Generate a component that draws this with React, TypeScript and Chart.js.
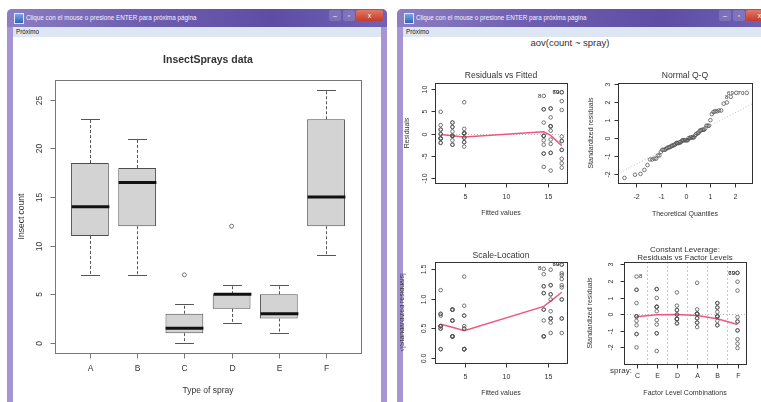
import React, { useEffect, useRef } from "react";
import { Chart, registerables } from "chart.js";
Chart.register(...registerables);

// ---------------- data ----------------
const sprayLabels = ["A", "B", "C", "D", "E", "F"];
const countA = [10, 7, 20, 14, 14, 12, 10, 23, 17, 20, 14, 13];
const countB = [11, 17, 21, 11, 16, 14, 17, 17, 19, 21, 7, 13];
const countC = [0, 1, 7, 2, 3, 1, 2, 1, 3, 0, 1, 4];
const countD = [3, 5, 12, 6, 4, 3, 5, 5, 5, 5, 2, 4];
const countE = [3, 5, 3, 5, 3, 6, 1, 1, 3, 2, 6, 4];
const countF = [11, 9, 15, 22, 15, 16, 13, 10, 26, 26, 24, 13];

const whiskerLow = [7, 7, 0, 2, 1, 9];
const boxQ1 = [11, 12, 1, 3.5, 2.5, 12];
const boxMedian = [14, 16.5, 1.5, 5, 3, 15];
const boxQ3 = [18.5, 18, 3, 5, 5, 23];
const whiskerHigh = [23, 21, 4, 6, 6, 26];
const outlierPos = [3, 4];
const outlierVal = [7, 12];
const boxYTicks = [0, 5, 10, 15, 20, 25];

const rvfXTicks = [5, 10, 15];
const rvfYTicks = [-10, -5, 0, 5, 10];
const smoothX = [2.083, 3.5, 4.917, 14.5, 15.333, 16.667];
const rvfSmoothY = [-0.2, -0.45, -0.75, 0.4, -0.4, -2.7];

const qqXTicks = [-2, -1, 0, 1, 2];
const qqYTicks = [-2, -1, 0, 1, 2, 3];

const slYTicks = [0, 0.5, 1, 1.5];
const slYLabels = ["0.0", "0.5", "1.0", "1.5"];
const slSmoothY = [0.57, 0.52, 0.46, 0.87, 0.96, 1.11];

const levelOrder = ["C", "E", "D", "A", "B", "F"];
const levelPos = [1, 2, 3, 4, 5, 6];
const levelYTicks = [-2, -1, 0, 1, 2, 3];
const levelSmoothY = [-0.16, -0.04, -0.02, -0.08, -0.28, -0.62];
const levelSeparators = [1.5, 2.5, 3.5, 4.5, 5.5];
const labelledRows = [8, 69, 70];

// ---------------- derived model quantities (aov fit) ----------------
const groups = [countA, countB, countC, countD, countE, countF];
type Row = { row: number; g: number; fitted: number; resid: number; std: number; theo: number };
const rows: Row[] = [];
groups.forEach((g, gi) => {
  const m = g.reduce((a, b) => a + b, 0) / g.length;
  g.forEach((v) => rows.push({ row: rows.length + 1, g: gi, fitted: m, resid: v - m, std: 0, theo: 0 }));
});
const sigma = Math.sqrt(rows.reduce((s, r) => s + r.resid * r.resid, 0) / (rows.length - groups.length));
const leverage = 1 / countA.length;
rows.forEach((r) => (r.std = r.resid / (sigma * Math.sqrt(1 - leverage))));

function qnorm(p: number) {
  const a = [-39.69683028665376, 220.9460984245205, -275.9285104469687, 138.357751867269, -30.66479806614716, 2.506628277459239];
  const b = [-54.47609879822406, 161.5858368580409, -155.6989798598866, 66.80131188771972, -13.28068155288572];
  const c = [-0.007784894002430293, -0.3223964580411365, -2.400758277161838, -2.549732539343734, 4.374664141464968, 2.938163982698783];
  const d = [0.007784695709041462, 0.3224671290700398, 2.445134137142996, 3.754408661907416];
  const pl = 0.02425;
  let q, r;
  if (p < pl) {
    q = Math.sqrt(-2 * Math.log(p));
    return (((((c[0] * q + c[1]) * q + c[2]) * q + c[3]) * q + c[4]) * q + c[5]) / ((((d[0] * q + d[1]) * q + d[2]) * q + d[3]) * q + 1);
  }
  if (p <= 1 - pl) {
    q = p - 0.5;
    r = q * q;
    return ((((((a[0] * r + a[1]) * r + a[2]) * r + a[3]) * r + a[4]) * r + a[5]) * q) / (((((b[0] * r + b[1]) * r + b[2]) * r + b[3]) * r + b[4]) * r + 1);
  }
  q = Math.sqrt(-2 * Math.log(1 - p));
  return -(((((c[0] * q + c[1]) * q + c[2]) * q + c[3]) * q + c[4]) * q + c[5]) / ((((d[0] * q + d[1]) * q + d[2]) * q + d[3]) * q + 1);
}
const sortedRows = [...rows].sort((p, q) => p.std - q.std || p.row - q.row);
sortedRows.forEach((r, i) => (r.theo = qnorm((i + 0.5) / rows.length)));
const sortedStd = sortedRows.map((r) => r.std);
function quant(v: number[], p: number) {
  const h = (v.length - 1) * p;
  const lo = Math.floor(h);
  return v[lo] + (h - lo) * ((v[lo + 1] ?? v[lo]) - v[lo]);
}
const qY1 = quant(sortedStd, 0.25);
const qY3 = quant(sortedStd, 0.75);
const qX1 = qnorm(0.25);
const qX3 = qnorm(0.75);
const qqSlope = (qY3 - qY1) / (qX3 - qX1);
const qqInt = qY1 - qqSlope * qX1;

// ---------------- drawing helpers ----------------
const FONT = '"Liberation Sans", Arial, sans-serif';
const TEXT = "#333";
const RED = "#f0567e";
const PT = "#555";

type Id = { x: number; y: number; text: string; side: "left" | "right" };
type RCfg = {
  xTicks: number[];
  xTickLabels: string[];
  yTicks: number[];
  yTickLabels: string[];
  tickLen: number;
  xTickLabOff: number;
  yTickLabOff: number;
  tickFont: number;
  title: string[];
  titleOffs: number[];
  titleFont: string;
  xTitle: string;
  xTitleOff: number;
  yTitle: string;
  yTitleOff: number;
  axisFont: number;
  frameColor: string;
  ids?: Id[];
  hLines?: number[];
  vLines?: number[];
  vLineColor?: string;
  extra?: { text: string; dx: number; dy: number; size: number }[];
};

function rPlugin(cfg: RCfg) {
  return {
    id: "rAxes",
    beforeDatasetsDraw(chart: any) {
      const { ctx, chartArea: a, scales } = chart;
      const x = scales.x;
      const y = scales.y;
      ctx.save();
      ctx.lineWidth = 1;
      ctx.strokeStyle = cfg.vLineColor || "#c8c8c8";
      ctx.setLineDash([2, 2]);
      (cfg.vLines || []).forEach((v) => {
        const px = Math.round(x.getPixelForValue(v)) + 0.5;
        ctx.beginPath();
        ctx.moveTo(px, a.top);
        ctx.lineTo(px, a.bottom);
        ctx.stroke();
      });
      ctx.strokeStyle = "#bdbdbd";
      ctx.setLineDash([1, 2]);
      (cfg.hLines || []).forEach((v) => {
        const py = Math.round(y.getPixelForValue(v)) + 0.5;
        ctx.beginPath();
        ctx.moveTo(a.left, py);
        ctx.lineTo(a.right, py);
        ctx.stroke();
      });
      ctx.restore();
    },
    afterDraw(chart: any) {
      const { ctx, chartArea: a, scales } = chart;
      const x = scales.x;
      const y = scales.y;
      ctx.save();
      ctx.strokeStyle = cfg.frameColor;
      ctx.lineWidth = 1;
      ctx.setLineDash([]);
      ctx.strokeRect(a.left + 0.5, a.top + 0.5, a.right - a.left, a.bottom - a.top);
      ctx.fillStyle = TEXT;
      ctx.font = `${cfg.tickFont}px ${FONT}`;
      ctx.textAlign = "center";
      ctx.textBaseline = "middle";
      cfg.xTicks.forEach((v, i) => {
        const px = Math.round(x.getPixelForValue(v)) + 0.5;
        ctx.beginPath();
        ctx.moveTo(px, a.bottom + 0.5);
        ctx.lineTo(px, a.bottom + 0.5 + cfg.tickLen);
        ctx.stroke();
        ctx.fillText(cfg.xTickLabels[i], px, a.bottom + cfg.xTickLabOff);
      });
      cfg.yTicks.forEach((v, i) => {
        const py = Math.round(y.getPixelForValue(v)) + 0.5;
        ctx.beginPath();
        ctx.moveTo(a.left + 0.5, py);
        ctx.lineTo(a.left + 0.5 - cfg.tickLen, py);
        ctx.stroke();
        ctx.save();
        ctx.translate(a.left - cfg.yTickLabOff, py);
        ctx.rotate(-Math.PI / 2);
        ctx.fillText(cfg.yTickLabels[i], 0, 0);
        ctx.restore();
      });
      const cx = (a.left + a.right) / 2;
      const cy = (a.top + a.bottom) / 2;
      ctx.font = cfg.titleFont;
      cfg.title.forEach((t, i) => ctx.fillText(t, cx, a.top - cfg.titleOffs[i]));
      ctx.font = `${cfg.axisFont}px ${FONT}`;
      ctx.fillText(cfg.xTitle, cx, a.bottom + cfg.xTitleOff);
      ctx.save();
      ctx.translate(a.left - cfg.yTitleOff, cy);
      ctx.rotate(-Math.PI / 2);
      ctx.fillText(cfg.yTitle, 0, 0);
      ctx.restore();
      (cfg.extra || []).forEach((e) => {
        ctx.font = `${e.size}px ${FONT}`;
        ctx.fillText(e.text, a.left + e.dx, a.bottom + e.dy);
      });
      ctx.font = `6px ${FONT}`;
      (cfg.ids || []).forEach((d) => {
        const px = x.getPixelForValue(d.x);
        const py = y.getPixelForValue(d.y);
        ctx.textAlign = d.side === "left" ? "right" : "left";
        ctx.fillText(d.text, d.side === "left" ? px - 2.5 : px + 2.5, py);
      });
      ctx.restore();
    },
  };
}

const boxExtras = {
  id: "boxExtras",
  afterDatasetsDraw(chart: any) {
    const { ctx, scales } = chart;
    const x = scales.x;
    const y = scales.y;
    ctx.save();
    sprayLabels.forEach((_, i) => {
      const pos = i + 1;
      const px = Math.round(x.getPixelForValue(pos)) + 0.5;
      const half = x.getPixelForValue(pos + 0.4) - x.getPixelForValue(pos);
      const staple = x.getPixelForValue(pos + 0.2) - x.getPixelForValue(pos);
      const yl = Math.round(y.getPixelForValue(whiskerLow[i])) + 0.5;
      const yq1 = y.getPixelForValue(boxQ1[i]);
      const yq3 = y.getPixelForValue(boxQ3[i]);
      const yh = Math.round(y.getPixelForValue(whiskerHigh[i])) + 0.5;
      const ym = y.getPixelForValue(boxMedian[i]);
      ctx.strokeStyle = "#555";
      ctx.lineWidth = 1;
      ctx.setLineDash([3, 2]);
      ctx.beginPath();
      ctx.moveTo(px, yq3);
      ctx.lineTo(px, yh);
      ctx.moveTo(px, yq1);
      ctx.lineTo(px, yl);
      ctx.stroke();
      ctx.setLineDash([]);
      ctx.beginPath();
      ctx.moveTo(px - staple, yh);
      ctx.lineTo(px + staple, yh);
      ctx.moveTo(px - staple, yl);
      ctx.lineTo(px + staple, yl);
      ctx.stroke();
      ctx.strokeStyle = "#111";
      ctx.lineWidth = 3;
      ctx.beginPath();
      ctx.moveTo(px - half, ym);
      ctx.lineTo(px + half, ym);
      ctx.stroke();
    });
    ctx.restore();
  },
};

const baseOpts = (pad: any, xr: number[], yr: number[]) => ({
  animation: false,
  responsive: false,
  devicePixelRatio: 1,
  events: [],
  layout: { padding: pad },
  plugins: { legend: { display: false }, tooltip: { enabled: false }, title: { display: false } },
  scales: {
    x: { type: "linear", min: xr[0], max: xr[1], display: false, offset: false },
    y: { type: "linear", min: yr[0], max: yr[1], display: false },
  },
});

const ptStyle = {
  type: "scatter",
  pointRadius: 1.8,
  pointBackgroundColor: "rgba(0,0,0,0)",
  pointBorderColor: PT,
  pointBorderWidth: 0.8,
  showLine: false,
};
const redLine = {
  type: "scatter",
  showLine: true,
  borderColor: RED,
  borderWidth: 1.5,
  pointRadius: 0,
  fill: false,
};

function idPoints(getX: (r: Row) => number, getY: (r: Row) => number, side: (r: Row) => "left" | "right"): Id[] {
  return labelledRows.map((n) => {
    const r = rows[n - 1];
    return { x: getX(r), y: getY(r), text: String(n), side: side(r) };
  });
}

function makeBox(c: HTMLCanvasElement) {
  return new Chart(c, {
    type: "bar",
    data: {
      datasets: [
        {
          type: "bar",
          data: sprayLabels.map((_, i) => ({ x: i + 1, y: [boxQ1[i], boxQ3[i]] })),
          backgroundColor: "#d3d3d3",
          borderColor: "#4d4d4d",
          borderWidth: 1,
          borderSkipped: false,
          barPercentage: 0.8,
          categoryPercentage: 1,
        },
        {
          ...ptStyle,
          pointRadius: 2,
          data: outlierPos.map((p, i) => ({ x: p, y: outlierVal[i] })),
        },
      ],
    },
    options: baseOpts({ left: 42, right: 20, top: 43, bottom: 49 }, [0.26, 6.74], [-1.04, 27.04]),
    plugins: [
      rPlugin({
        xTicks: [1, 2, 3, 4, 5, 6],
        xTickLabels: sprayLabels,
        yTicks: boxYTicks,
        yTickLabels: boxYTicks.map(String),
        tickLen: 5,
        xTickLabOff: 16,
        yTickLabOff: 15,
        tickFont: 8.5,
        title: ["InsectSprays data"],
        titleOffs: [20],
        titleFont: `bold 10.5px ${FONT}`,
        xTitle: "Type of spray",
        xTitleOff: 38,
        yTitle: "Insect count",
        yTitleOff: 33,
        axisFont: 8.5,
        frameColor: "#777",
      }),
      boxExtras,
    ],
  } as any);
}

function makeRvf(c: HTMLCanvasElement) {
  return new Chart(c, {
    type: "scatter",
    data: {
      datasets: [
        { ...ptStyle, data: rows.map((r) => ({ x: r.fitted, y: r.resid })) },
        { ...redLine, data: smoothX.map((x, i) => ({ x, y: rvfSmoothY[i] })) },
      ],
    },
    options: baseOpts({ left: 35, right: 11, top: 33, bottom: 42 }, [1.4, 17.3], [-11.13, 11.42]),
    plugins: [
      rPlugin({
        xTicks: rvfXTicks,
        xTickLabels: rvfXTicks.map(String),
        yTicks: rvfYTicks,
        yTickLabels: rvfYTicks.map(String),
        tickLen: 4,
        xTickLabOff: 14,
        yTickLabOff: 10,
        tickFont: 7,
        title: ["Residuals vs Fitted"],
        titleOffs: [7],
        titleFont: `8.6px ${FONT}`,
        xTitle: "Fitted values",
        xTitleOff: 30,
        yTitle: "Residuals",
        yTitleOff: 28,
        axisFont: 7,
        frameColor: "#333",
        hLines: [0],
        ids: idPoints((r) => r.fitted, (r) => r.resid, () => "left"),
      }),
    ],
  } as any);
}

function makeQQ(c: HTMLCanvasElement) {
  const xr = [-2.72, 2.67];
  return new Chart(c, {
    type: "scatter",
    data: {
      datasets: [
        {
          type: "scatter",
          showLine: true,
          borderColor: "#bdbdbd",
          borderWidth: 1,
          borderDash: [1, 2],
          pointRadius: 0,
          data: xr.map((x) => ({ x, y: qqInt + qqSlope * x })),
        },
        { ...ptStyle, data: sortedRows.map((r) => ({ x: r.theo, y: r.std })) },
      ],
    },
    options: baseOpts({ left: 40, right: 9, top: 33, bottom: 42 }, xr, [-2.5, 3.03]),
    plugins: [
      rPlugin({
        xTicks: qqXTicks,
        xTickLabels: qqXTicks.map(String),
        yTicks: qqYTicks,
        yTickLabels: qqYTicks.map(String),
        tickLen: 4,
        xTickLabOff: 14,
        yTickLabOff: 10,
        tickFont: 7,
        title: ["Normal Q-Q"],
        titleOffs: [7],
        titleFont: `8.6px ${FONT}`,
        xTitle: "Theoretical Quantiles",
        xTitleOff: 31,
        yTitle: "Standardized residuals",
        yTitleOff: 27,
        axisFont: 7,
        frameColor: "#333",
        ids: idPoints((r) => r.theo, (r) => r.std, () => "left"),
      }),
    ],
  } as any);
}

function makeSL(c: HTMLCanvasElement) {
  return new Chart(c, {
    type: "scatter",
    data: {
      datasets: [
        { ...ptStyle, data: rows.map((r) => ({ x: r.fitted, y: Math.sqrt(Math.abs(r.std)) })) },
        { ...redLine, data: smoothX.map((x, i) => ({ x, y: slSmoothY[i] })) },
      ],
    },
    options: baseOpts({ left: 35, right: 11, top: 37, bottom: 39 }, [1.4, 17.3], [-0.085, 1.62]),
    plugins: [
      rPlugin({
        xTicks: rvfXTicks,
        xTickLabels: rvfXTicks.map(String),
        yTicks: slYTicks,
        yTickLabels: slYLabels,
        tickLen: 4,
        xTickLabOff: 14,
        yTickLabOff: 11,
        tickFont: 7,
        title: ["Scale-Location"],
        titleOffs: [6],
        titleFont: `8.6px ${FONT}`,
        xTitle: "Fitted values",
        xTitleOff: 30,
        yTitle: "\u221A|Standardized residuals|",
        yTitleOff: 33,
        axisFont: 7,
        frameColor: "#333",
        ids: idPoints((r) => r.fitted, (r) => Math.sqrt(Math.abs(r.std)), () => "left"),
      }),
    ],
  } as any);
}

function makeLevels(c: HTMLCanvasElement) {
  return new Chart(c, {
    type: "scatter",
    data: {
      datasets: [
        { ...ptStyle, data: rows.map((r) => ({ x: r.g + 1, y: r.std })) },
        { ...redLine, data: levelPos.map((x, i) => ({ x, y: levelSmoothY[i] })) },
      ],
    },
    options: baseOpts({ left: 46, right: 15, top: 37, bottom: 38 }, [0.38, 6.42], [-3.0, 3.14]),
    plugins: [
      rPlugin({
        xTicks: levelPos,
        xTickLabels: levelOrder,
        yTicks: levelYTicks,
        yTickLabels: levelYTicks.map(String),
        tickLen: 4,
        xTickLabOff: 12,
        yTickLabOff: 13,
        tickFont: 7,
        title: ["Constant Leverage:", "Residuals vs Factor Levels"],
        titleOffs: [12.5, 4],
        titleFont: `8px ${FONT}`,
        xTitle: "Factor Level Combinations",
        xTitleOff: 29,
        yTitle: "Standardized residuals",
        yTitleOff: 34,
        axisFont: 7,
        frameColor: "#333",
        hLines: [0],
        vLines: levelSeparators,
        extra: [{ text: "spray:", dx: -3, dy: 7, size: 8 }],
        ids: idPoints((r) => r.g + 1, (r) => r.std, (r) => (r.g + 1 > 3.5 ? "left" : "right")),
      }),
    ],
  } as any);
}

// ---------------- window chrome ----------------
function Win({ left }: { left: number }) {
  const btn = (l: number, w: number, bg: string, content: React.ReactNode) => (
    <div
      style={{
        position: "absolute",
        left: l,
        top: 1,
        width: w,
        height: 11,
        background: bg,
        borderRadius: 2,
        color: "#fff",
        fontSize: 7,
        lineHeight: "11px",
        textAlign: "center",
        fontFamily: FONT,
      }}
    >
      {content}
    </div>
  );
  return (
    <div style={{ position: "absolute", left, top: 9, width: 380, height: 400, background: "#a595d4", borderRadius: "5px 5px 0 0" }}>
      <div
        style={{
          position: "absolute",
          left: 0,
          top: 0,
          width: 380,
          height: 18,
          borderRadius: "5px 5px 0 0",
          background: "linear-gradient(to right, #8b7ec2, #6d5eb0 35%, #5d4ea4 70%, #7062b4)",
        }}
      />
      <div style={{ position: "absolute", left: 7, top: 4, width: 8, height: 9, background: "linear-gradient(#7aa8e8,#2f62b8)", border: "1px solid #e4e4f4" }} />
      <div style={{ position: "absolute", left: 19, top: 3, fontSize: 6.3, lineHeight: "12px", color: "#f4f2ff", whiteSpace: "nowrap", fontFamily: FONT }}>
        Clique con el mouse o presione ENTER para próxima página
      </div>
      {btn(322, 12, "rgba(255,255,255,0.15)", "–")}
      {btn(336, 12, "rgba(255,255,255,0.15)", "▫")}
      {btn(349, 27, "linear-gradient(#e07a6a,#c63a2a)", "x")}
      <div style={{ position: "absolute", left: 6, top: 18, width: 368, height: 10, background: "#dde6f3" }}>
        <span style={{ position: "absolute", left: 3, top: 0, fontSize: 6.3, lineHeight: "10px", color: "#222", fontFamily: FONT }}>Próximo</span>
      </div>
      <div style={{ position: "absolute", left: 6, top: 28, width: 368, height: 372, background: "#fff" }} />
    </div>
  );
}

export default function App() {
  const r0 = useRef<HTMLCanvasElement>(null);
  const r1 = useRef<HTMLCanvasElement>(null);
  const r2 = useRef<HTMLCanvasElement>(null);
  const r3 = useRef<HTMLCanvasElement>(null);
  const r4 = useRef<HTMLCanvasElement>(null);
  useEffect(() => {
    const charts = [
      makeBox(r0.current!),
      makeRvf(r1.current!),
      makeQQ(r2.current!),
      makeSL(r3.current!),
      makeLevels(r4.current!),
    ];
    return () => charts.forEach((c) => c.destroy());
  }, []);
  const cv = (l: number, t: number): React.CSSProperties => ({ position: "absolute", left: l, top: t });
  return (
    <div style={{ position: "absolute", left: 0, top: 0, width: 761, height: 402, overflow: "hidden", background: "#fff" }}>
      <Win left={7} />
      <Win left={397} />
      <canvas ref={r0} width={368} height={365} style={cv(13, 37)} />
      <div
        style={{
          position: "absolute",
          left: 470,
          top: 37,
          width: 200,
          textAlign: "center",
          fontSize: 9.5,
          lineHeight: "12px",
          color: TEXT,
          fontFamily: FONT,
        }}
      >
        aov(count ~ spray)
      </div>
      <canvas ref={r1} width={178} height={175} style={cv(400, 50)} />
      <canvas ref={r2} width={183} height={175} style={cv(578, 50)} />
      <canvas ref={r3} width={178} height={177} style={cv(400, 225)} />
      <canvas ref={r4} width={183} height={177} style={cv(578, 225)} />
    </div>
  );
}
